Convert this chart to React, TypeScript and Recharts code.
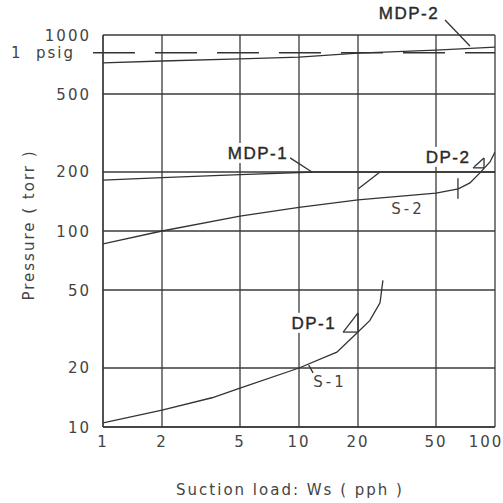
import { LineChart, Line, XAxis, YAxis, CartesianGrid, ReferenceLine, ReferenceDot } from 'recharts'

// suction load (pph) and pressure (torr)
const loadTicks = [1, 2, 5, 10, 20, 50, 100]
const pressureTicks = [10, 20, 50, 100, 200, 500, 1000]
const psigTorr = 812

const mdp2Load = [1, 2, 5, 10, 20, 50, 100]
const mdp2Pressure = [720, 737, 755, 772, 809, 838, 868]

const mdp1Load = [1, 2, 5, 12, 20, 50, 100]
const mdp1Pressure = [182, 187, 194, 200, 200, 200, 200]

const s2Load = [1, 2, 5, 10, 20, 50, 65, 74.5, 83.8, 94.3, 100]
const s2Pressure = [86, 100, 119, 132, 144, 156, 164, 176, 198, 225, 253]

const s1Load = [1, 2, 3.6, 5, 10, 15.6, 20, 23, 25.9, 26.8]
const s1Pressure = [10.5, 12.2, 14.1, 15.8, 20, 24.1, 30.5, 35, 43, 56]

// curve labels and their leader strokes (load, pressure)
const curveLabels = [
  { text: 'MDP-2', w: 36.4, p: 1295, bold: true },
  { text: 'MDP-1', w: 6.18, p: 250, bold: true },
  { text: 'DP-2', w: 57.6, p: 239, bold: true },
  { text: 'DP-1', w: 11.9, p: 34, bold: true },
  { text: 'S-2', w: 36, p: 131, bold: false },
  { text: 'S-1', w: 14.4, p: 17, bold: false },
]

const leaders = [
  [[55.6, 1193], [74.5, 879]],
  [[9.0, 236], [11.65, 200]],
  [[20, 164], [25.9, 200]],
  [[64.7, 186], [64.7, 146]],
  [[77.3, 210], [87.9, 236], [87.9, 210], [77.3, 210]],
  [[16.8, 30.5], [20, 38.2], [20, 30.5], [16.8, 30.5]],
  [[11.2, 20.7], [11.8, 18.9]],
]

const zip = (ws: number[], ps: number[]) => ws.map((w, i) => ({ w, p: ps[i] }))

const series = [
  zip(mdp2Load, mdp2Pressure),
  zip(mdp1Load, mdp1Pressure),
  zip(s2Load, s2Pressure),
  zip(s1Load, s1Pressure),
]

const ink = '#333'
const tickFont = 'DejaVu Sans, sans-serif'
const labelFont = 'Liberation Sans, Arial, sans-serif'

const YTick = ({ x, y, payload }: any) => (
  <text x={x} y={y} dy={5.5} textAnchor="end" fontSize={15} fill="#444" letterSpacing={2} fontFamily={tickFont}>
    {payload.value}
  </text>
)

const XTick = ({ x, y, payload }: any) => (
  <text x={payload.value === 100 ? x - 5 : x} y={y} dy={20} textAnchor="middle" fontSize={15} fill="#444" letterSpacing={2} fontFamily={tickFont}>
    {payload.value}
  </text>
)

const LabelShape = (text: string, bold: boolean) => (props: any) => {
  const { cx, cy } = props
  if (!bold) {
    return (
      <text x={cx} y={cy} dy={5.5} textAnchor="middle" fontSize={15} fill="#444" letterSpacing={3} fontFamily={tickFont}>
        {text}
      </text>
    )
  }
  const w = text.length * 12 + 4
  return (
    <g>
      <rect x={cx - w / 2} y={cy - 10} width={w} height={20} fill="#fff" />
      <text x={cx} y={cy} dy={6} textAnchor="middle" fontSize={17} fill="#2a2a2a" stroke="#2a2a2a" strokeWidth={0.4} letterSpacing={1.5} fontFamily={labelFont}>
        {text}
      </text>
    </g>
  )
}

export default function App() {
  return (
    <div style={{ position: 'absolute', left: 0, top: 0, background: '#fff' }}>
      <LineChart width={503} height={503} margin={{ top: 35, right: 8, bottom: 0, left: 0 }}>
        <CartesianGrid stroke="#3a3a3a" strokeWidth={1.3} />
        <XAxis
          dataKey="w"
          type="number"
          scale="log"
          domain={[1, 100]}
          ticks={loadTicks}
          allowDataOverflow
          height={76}
          tickSize={0}
          tickMargin={0}
          axisLine={{ stroke: '#3a3a3a', strokeWidth: 1.3 }}
          tick={<XTick />}
          label={{
            content: () => (
              <text x={290} y={495} textAnchor="middle" fontSize={15} fill="#444" letterSpacing={2} fontFamily={tickFont}>
                Suction load: Ws ( pph )
              </text>
            ),
          }}
        />
        <YAxis
          dataKey="p"
          type="number"
          scale="log"
          domain={[10, 1000]}
          ticks={pressureTicks}
          allowDataOverflow
          width={103}
          tickSize={0}
          tickMargin={12}
          axisLine={{ stroke: '#3a3a3a', strokeWidth: 1.3 }}
          tick={<YTick />}
          label={{
            content: () => (
              <text x={34} y={225} textAnchor="middle" fontSize={15} fill="#444" letterSpacing={2} fontFamily={tickFont} transform="rotate(-90 34 225)">
                Pressure ( torr )
              </text>
            ),
          }}
        />
        <ReferenceLine
          segment={[{ x: 0.889, y: psigTorr }, { x: 100, y: psigTorr }]}
          stroke={ink}
          strokeWidth={1.3}
          strokeDasharray="42 20"
          ifOverflow="visible"
        />
        <ReferenceDot
          x={0.72}
          y={psigTorr}
          r={0}
          ifOverflow="visible"
          shape={(props: any) => (
            <text x={props.cx} y={props.cy} dy={5.5} textAnchor="end" fontSize={15} fill="#444" letterSpacing={2} fontFamily={tickFont} style={{ whiteSpace: 'pre' }}>
              {'1  psig'}
            </text>
          )}
        />
        {series.map((d, i) => (
          <Line
            key={i}
            data={d}
            dataKey="p"
            type="linear"
            stroke={ink}
            strokeWidth={1.3}
            dot={false}
            isAnimationActive={false}
          />
        ))}
        {leaders.flatMap((pts, i) =>
          pts.slice(1).map((pt, j) => (
            <ReferenceLine
              key={`l${i}-${j}`}
              segment={[{ x: pts[j][0], y: pts[j][1] }, { x: pt[0], y: pt[1] }]}
              stroke={ink}
              strokeWidth={1.3}
              ifOverflow="visible"
            />
          ))
        )}
        {curveLabels.map((l) => (
          <ReferenceDot key={l.text} x={l.w} y={l.p} r={0} ifOverflow="visible" shape={LabelShape(l.text, l.bold)} />
        ))}
      </LineChart>
    </div>
  )
}
